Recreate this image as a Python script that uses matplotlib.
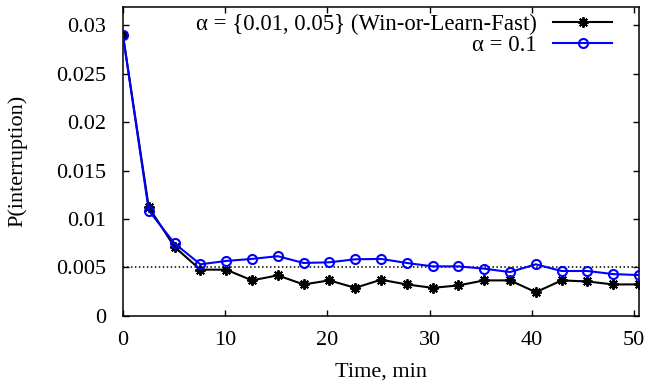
import matplotlib
matplotlib.use("Agg")
import matplotlib.pyplot as plt
import numpy as np

# data
time_min = np.arange(21) * 2.525
p_wolf = [0.0290, 0.01122, 0.00711, 0.00476, 0.00476, 0.00365, 0.00417, 0.00323,
          0.00365, 0.00288, 0.00372, 0.00323, 0.00288, 0.00313, 0.00365, 0.00365,
          0.00243, 0.00365, 0.00354, 0.00323, 0.00324]
p_alpha01 = [0.0290, 0.01087, 0.00747, 0.00531, 0.00566, 0.00587, 0.00615, 0.00545,
             0.00552, 0.00583, 0.00587, 0.00545, 0.00510, 0.00510, 0.00486, 0.00451,
             0.00531, 0.00462, 0.00462, 0.00430, 0.00420]
threshold = 0.005
x_ticks = [0, 10, 20, 30, 40, 50]
y_ticks = [0, 0.005, 0.01, 0.015, 0.02, 0.025, 0.03]
y_tick_labels = ["0", "0.005", "0.01", "0.015", "0.02", "0.025", "0.03"]

plt.rcParams["font.family"] = ["Liberation Serif", "DejaVu Serif"]
plt.rcParams["font.size"] = 16

fig = plt.figure(figsize=(6.47, 3.87), dpi=100)
ax = fig.add_axes([0.190, 0.1842, 0.7977, 0.7977])

ax.axhline(threshold, color="black", linestyle=(0, (1, 1.6)), linewidth=1.1, zorder=1)
ax.plot(time_min, p_wolf, color="black", linewidth=1.5, marker=(8, 2, 0),
        markersize=7.5, markeredgewidth=1.4,
        label="α = {0.01, 0.05} (Win-or-Learn-Fast)", zorder=3)
ax.plot(time_min, p_alpha01, color="#0000ff", linewidth=1.5, marker="o",
        markersize=6.5, markerfacecolor="none", markeredgewidth=1.5,
        label="α = 0.1", zorder=4)

ax.set_xlim(0, 50.5)
ax.set_ylim(0, 0.0319)
ax.set_xticks(x_ticks)
ax.set_yticks(y_ticks)
ax.set_yticklabels(y_tick_labels)
ax.tick_params(direction="in", top=True, right=True, length=4.5, width=1)
ax.tick_params(axis="y", pad=12)
ax.tick_params(axis="x", pad=11)
for s in ax.spines.values():
    s.set_linewidth(1.1)

ax.set_xlabel("Time, min", labelpad=9)
ax.set_ylabel("P(interruption)", labelpad=21)

ax.legend(loc="upper right", frameon=False, markerfirst=False, handlelength=2.6,
          handletextpad=0.7, borderaxespad=0.0, borderpad=0.0, labelspacing=0.02,
          bbox_to_anchor=(0.948, 0.978), prop={"size": 16.4})

fig.savefig("out.png", dpi=100)
